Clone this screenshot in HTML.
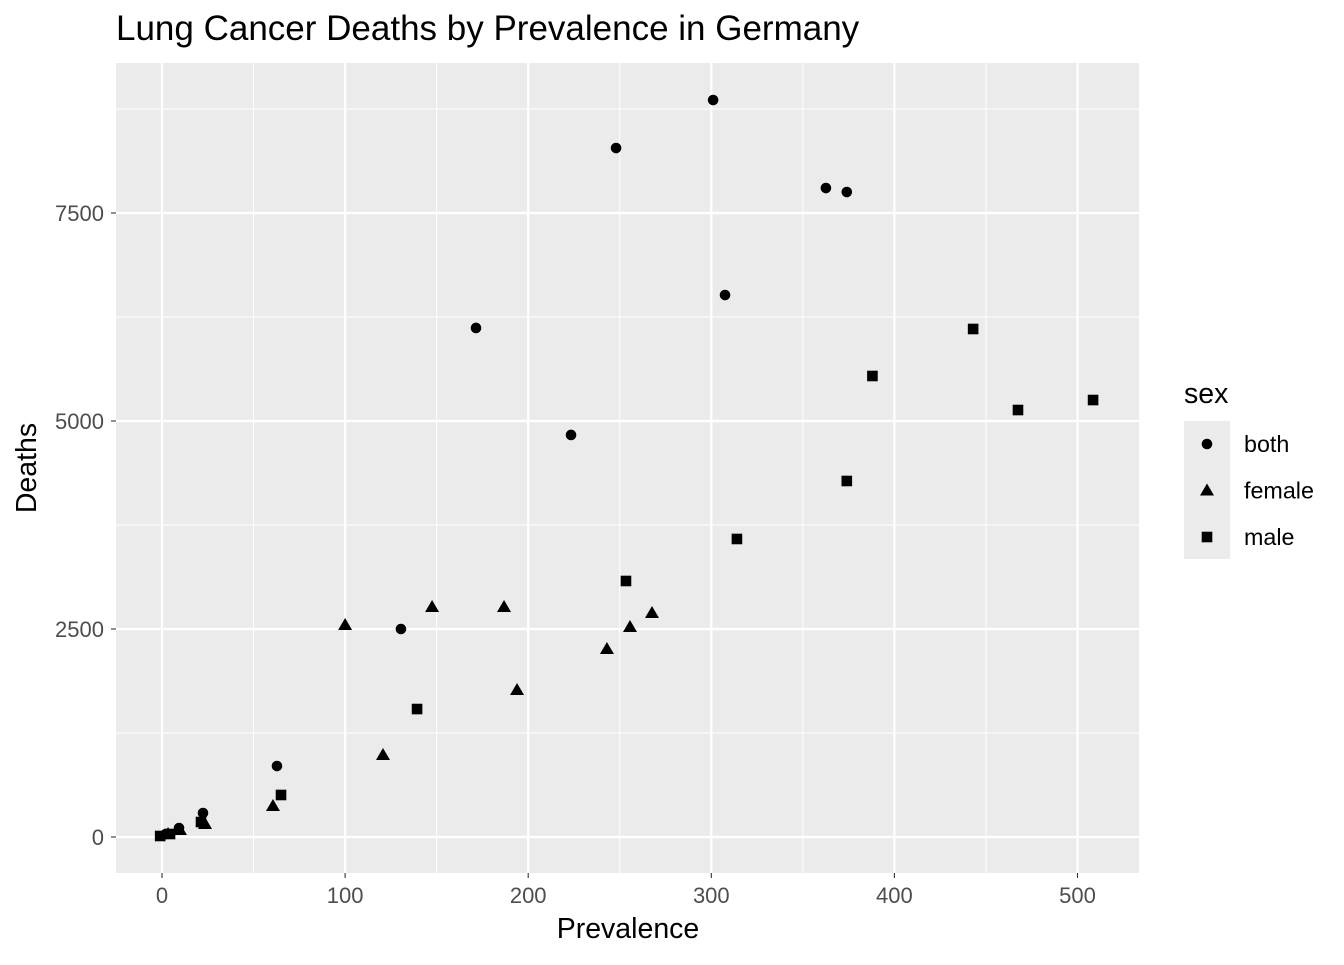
<!DOCTYPE html>
<html><head><meta charset="utf-8"><style>
body{margin:0;background:#fff;font-family:"Liberation Sans",sans-serif}
</style></head><body>
<svg id="c" width="1344" height="960" xmlns="http://www.w3.org/2000/svg" font-family="Liberation Sans, sans-serif"></svg>
<script>
const bothX=[301,248,362.6,374,307.5,171.5,223.4,130.5,62.8,22.4,9.3,2];
const bothY=[8858,8281,7800,7752,6514,6118,4832,2500,853,288,108,36];
const femX=[100,147.5,186.8,193.9,243,255.6,267.6,120.7,60.6,23.5,9.8,3.3];
const femY=[2548,2764,2764,1767,2260,2524,2692,986,373,156,84,36];
const maleX=[443,388,467.5,508.5,374,314,253.4,139.3,65,21.3,4.4,-1];
const maleY=[6106,5541,5132,5252,4279,3582,3077,1538,505,180,36,12];
const xTicks=[0,100,200,300,400,500];
const yTicks=[0,2500,5000,7500];
const NS="http://www.w3.org/2000/svg";
const svg=document.getElementById('c');
const L=116,R=1139,T=63,B=873;
const sx=v=>162+v*1.831, sy=v=>837-v*0.0832;
function mk(t,a,p){const e=document.createElementNS(NS,t);for(const k in a)e.setAttribute(k,a[k]);(p||svg).appendChild(e);return e;}
const panel=mk('rect',{x:L,y:T,width:R-L,height:B-T,fill:'#ebebeb'});


for(let i=0;i<xTicks.length;i++){const v=xTicks[i]+50;if(sx(v)<R){const g=mk('line',{x1:sx(v),x2:sx(v),y1:T,y2:B,stroke:'#fff','stroke-width':1});}}
for(let i=0;i<yTicks.length;i++){const v=yTicks[i]+1250;if(sy(v)>T){const g=mk('line',{x1:L,x2:R,y1:sy(v),y2:sy(v),stroke:'#fff','stroke-width':1});}}
xTicks.forEach(v=>{const g=mk('line',{x1:sx(v),x2:sx(v),y1:T,y2:B,stroke:'#fff','stroke-width':2.2});
const t=mk('line',{x1:sx(v),x2:sx(v),y1:B,y2:B+5,stroke:'#333','stroke-width':1.1});
const l=mk('text',{x:sx(v),y:903,'text-anchor':'middle','font-size':22,fill:'#4d4d4d'});l.textContent=v;});
yTicks.forEach(v=>{const g=mk('line',{x1:L,x2:R,y1:sy(v),y2:sy(v),stroke:'#fff','stroke-width':2.2});
const t=mk('line',{x1:L-5,x2:L,y1:sy(v),y2:sy(v),stroke:'#333','stroke-width':1.1});
const l=mk('text',{x:104,y:sy(v)+8,'text-anchor':'end','font-size':22,fill:'#4d4d4d'});l.textContent=v;});
function circ(x,y,p){return mk('circle',{cx:x,cy:y,r:5.3,fill:'#000'},p);}
function tri(x,y,p){return mk('polygon',{points:`${x},${y-7} ${x-7},${y+5} ${x+7},${y+5}`,fill:'#000'},p);}
function sq(x,y,p){return mk('rect',{x:x-5.3,y:y-5.3,width:10.6,height:10.6,fill:'#000'},p);}
bothX.forEach((v,i)=>{const e=circ(sx(v),sy(bothY[i]));});
femX.forEach((v,i)=>{const e=tri(sx(v),sy(femY[i]));});
maleX.forEach((v,i)=>{const e=sq(sx(v),sy(maleY[i]));});
function txt(x,y,s,sz,name,extra){const e=mk('text',Object.assign({x:x,y:y,'font-size':sz,fill:'#000'},extra||{}));e.textContent=s;return e;}
txt(116,40,'Lung Cancer Deaths by Prevalence in Germany',35,'chart-title');
txt(628,938,'Prevalence',28.5,'x-axis-title',{'text-anchor':'middle'});
txt(36,468,'Deaths',28.5,'y-axis-title',{'text-anchor':'middle',transform:'rotate(-90 36 468)'});
txt(1184,403,'sex',28.5,'legend-title');
const lb=mk('rect',{x:1184,y:421,width:46,height:138,fill:'#ebebeb'});
[['both',circ],['female',tri],['male',sq]].forEach((d,i)=>{const y=444+i*46.5;const k=d[1](1207,y);txt(1244,y+8,d[0],23.3,'legend-label-'+d[0]);});
</script>
</body></html>
